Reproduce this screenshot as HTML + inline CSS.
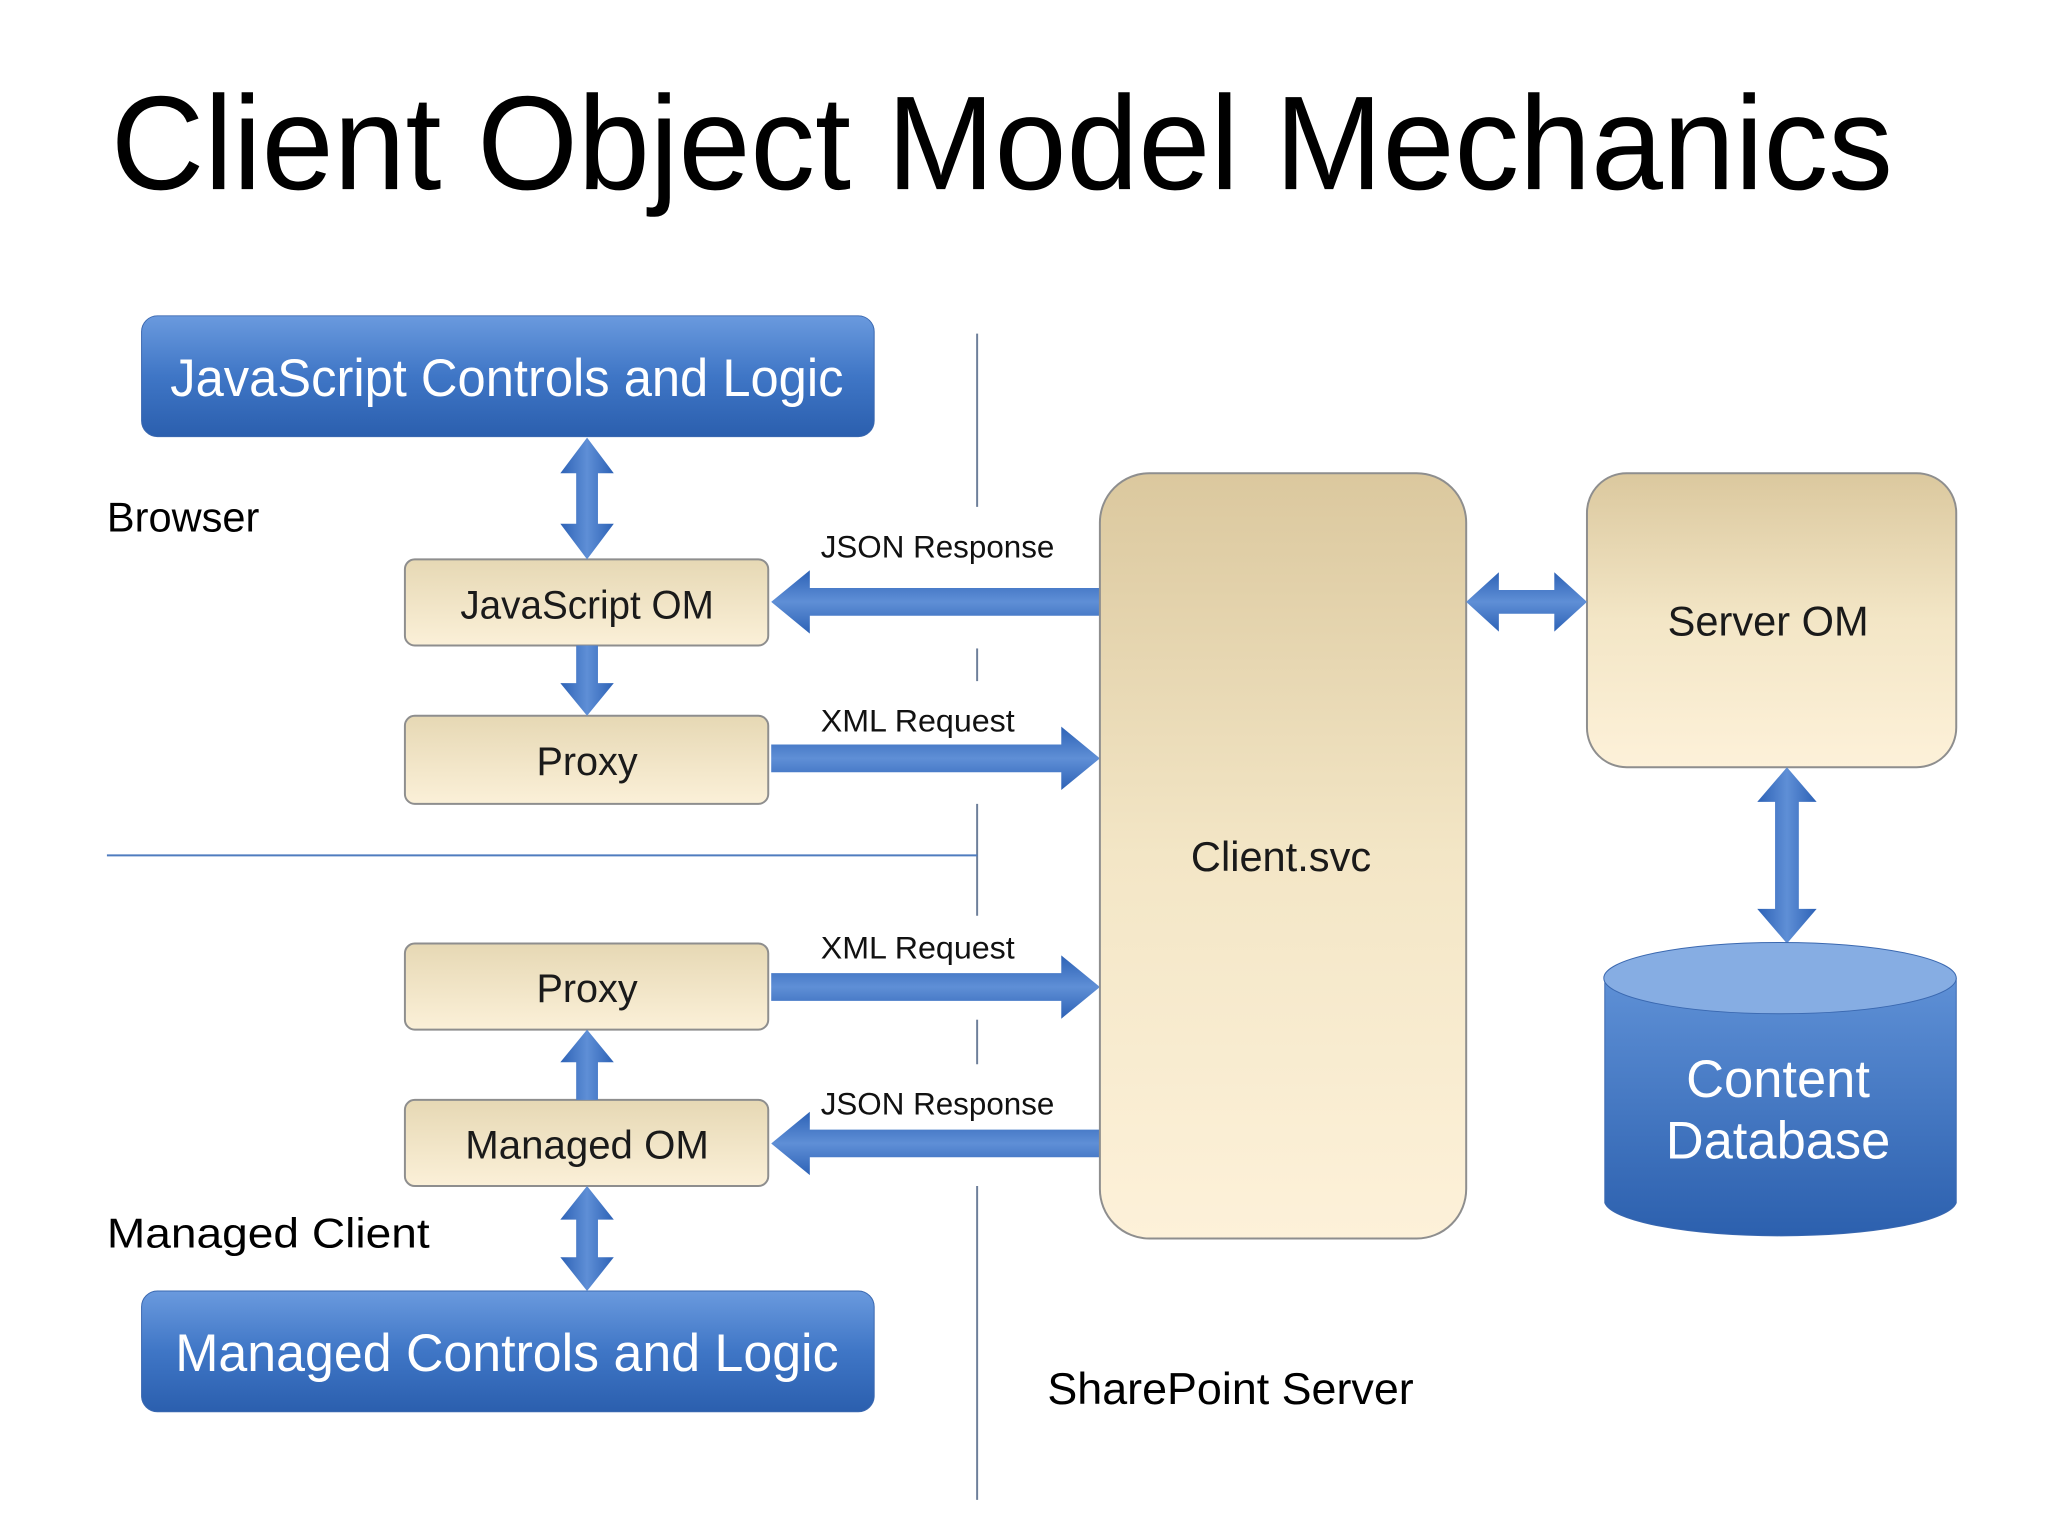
<!DOCTYPE html>
<html><head><meta charset="utf-8"><style>html,body{margin:0;padding:0;background:#fff}svg{display:block}</style></head>
<body>
<svg width="2048" height="1536" viewBox="0 0 2048 1536" xmlns="http://www.w3.org/2000/svg" font-family="Liberation Sans, DejaVu Sans, sans-serif">
<defs>
<linearGradient id="blue" x1="0" y1="0" x2="0" y2="1"><stop offset="0" stop-color="#6a9ade"/><stop offset="0.5" stop-color="#3f76c6"/><stop offset="1" stop-color="#2b5fae"/></linearGradient>
<linearGradient id="tan" x1="0" y1="0" x2="0" y2="1"><stop offset="0" stop-color="#e6d8b4"/><stop offset="1" stop-color="#fbf0d8"/></linearGradient>
<linearGradient id="tan2" x1="0" y1="0" x2="0" y2="1"><stop offset="0" stop-color="#dbc89e"/><stop offset="0.5" stop-color="#f3e6c6"/><stop offset="1" stop-color="#fdf1d9"/></linearGradient>
<linearGradient id="cyl" x1="0" y1="0" x2="0" y2="1"><stop offset="0" stop-color="#5e90d6"/><stop offset="1" stop-color="#2c60ae"/></linearGradient>
<linearGradient id="arrH" x1="0" y1="0" x2="0" y2="1"><stop offset="0" stop-color="#2d62b6"/><stop offset="0.5" stop-color="#5f8fd6"/><stop offset="1" stop-color="#2d62b6"/></linearGradient>
<linearGradient id="arrV" x1="0" y1="0" x2="1" y2="0"><stop offset="0" stop-color="#2d62b6"/><stop offset="0.5" stop-color="#5f8fd6"/><stop offset="1" stop-color="#2d62b6"/></linearGradient>
</defs>
<g transform="scale(0.99)">
<text x="112" y="191" font-size="135" fill="#000" textLength="1800" lengthAdjust="spacingAndGlyphs">Client Object Model Mechanics</text>

<g stroke="#6d7f9a" stroke-width="2">
<line x1="987" y1="337" x2="987" y2="512"/>
<line x1="987" y1="655" x2="987" y2="688"/>
<line x1="987" y1="812" x2="987" y2="925"/>
<line x1="987" y1="1030" x2="987" y2="1075"/>
<line x1="987" y1="1198" x2="987" y2="1515"/>
</g>
<line x1="108" y1="864" x2="987" y2="864" stroke="#4f7cbf" stroke-width="2"/>

<rect x="143" y="319" width="740" height="122" rx="16" fill="url(#blue)" stroke="#3a68b0"/>
<text x="512" y="400" font-size="53" fill="#fff" text-anchor="middle" textLength="680" lengthAdjust="spacingAndGlyphs">JavaScript Controls and Logic</text>
<rect x="143" y="1304" width="740" height="122" rx="16" fill="url(#blue)" stroke="#3a68b0"/>
<text x="512" y="1385" font-size="53" fill="#fff" text-anchor="middle" textLength="670" lengthAdjust="spacingAndGlyphs">Managed Controls and Logic</text>

<text x="108" y="537" font-size="42" fill="#000">Browser</text>
<text x="108" y="1260" font-size="42" fill="#000" textLength="326" lengthAdjust="spacingAndGlyphs">Managed Client</text>
<text x="1058" y="1418" font-size="45" fill="#000" textLength="370" lengthAdjust="spacingAndGlyphs">SharePoint Server</text>

<g stroke="#8e8e8e" stroke-width="2" fill="url(#tan)">
<rect x="409" y="565" width="367" height="87" rx="10"/>
<rect x="409" y="723" width="367" height="89" rx="10"/>
<rect x="409" y="953" width="367" height="87" rx="10"/>
<rect x="409" y="1111" width="367" height="87" rx="10"/>
</g>
<g font-size="40" fill="#1a1a1a" text-anchor="middle">
<text x="593" y="625" textLength="256" lengthAdjust="spacingAndGlyphs">JavaScript OM</text>
<text x="593" y="783">Proxy</text>
<text x="593" y="1012">Proxy</text>
<text x="593" y="1170" textLength="246" lengthAdjust="spacingAndGlyphs">Managed OM</text>
</g>

<g fill="url(#arrV)">
<polygon points="593,442 620,478 604,478 604,529 620,529 593,565 566,529 582,529 582,478 566,478"/>
<polygon points="582,652 604,652 604,690 620,690 593,723 566,690 582,690"/>
<polygon points="593,1040 620,1073 604,1073 604,1111 582,1111 582,1073 566,1073"/>
<polygon points="593,1198 620,1232 604,1232 604,1270 620,1270 593,1304 566,1270 582,1270 582,1232 566,1232"/>
</g>

<g fill="url(#arrH)">
<polygon points="1111,594 1111,622 818,622 818,640 779,608 818,576 818,594"/>
<polygon points="779,752 1072,752 1072,734 1111,766 1072,798 1072,780 779,780"/>
<polygon points="779,983 1072,983 1072,965 1111,997 1072,1029 1072,1011 779,1011"/>
<polygon points="1111,1141 1111,1169 818,1169 818,1187 779,1155 818,1123 818,1141"/>
</g>
<g font-size="32" fill="#111">
<text x="829" y="563" textLength="236" lengthAdjust="spacingAndGlyphs">JSON Response</text>
<text x="829" y="739" textLength="196" lengthAdjust="spacingAndGlyphs">XML Request</text>
<text x="829" y="968" textLength="196" lengthAdjust="spacingAndGlyphs">XML Request</text>
<text x="829" y="1126" textLength="236" lengthAdjust="spacingAndGlyphs">JSON Response</text>
</g>

<rect x="1111" y="478" width="370" height="773" rx="50" fill="url(#tan2)" stroke="#8e8e8e" stroke-width="2"/>
<text x="1294" y="880" font-size="42" fill="#1a1a1a" text-anchor="middle">Client.svc</text>

<rect x="1603" y="478" width="373" height="297" rx="40" fill="url(#tan2)" stroke="#8e8e8e" stroke-width="2"/>
<text x="1786" y="642" font-size="42" fill="#1a1a1a" text-anchor="middle">Server OM</text>

<g fill="url(#arrH)">
<polygon points="1481,608 1514,578 1514,596 1570,596 1570,578 1603,608 1570,638 1570,620 1514,620 1514,638"/>
</g>
<g fill="url(#arrV)">
<polygon points="1805,775 1835,810 1817,810 1817,918 1835,918 1805,953 1775,918 1793,918 1793,810 1775,810"/>
</g>

<path d="M1621,988 L1621,1215 A178,36 0 0 0 1976,1215 L1976,988 Z" fill="url(#cyl)" stroke="#3a68b0"/>
<ellipse cx="1798" cy="988" rx="178" ry="36" fill="#86ade3" stroke="#3a68b0"/>
<text x="1796" y="1108" font-size="53" fill="#fff" text-anchor="middle">Content</text>
<text x="1796" y="1170" font-size="53" fill="#fff" text-anchor="middle">Database</text>
</g>
</svg>
</body></html>
